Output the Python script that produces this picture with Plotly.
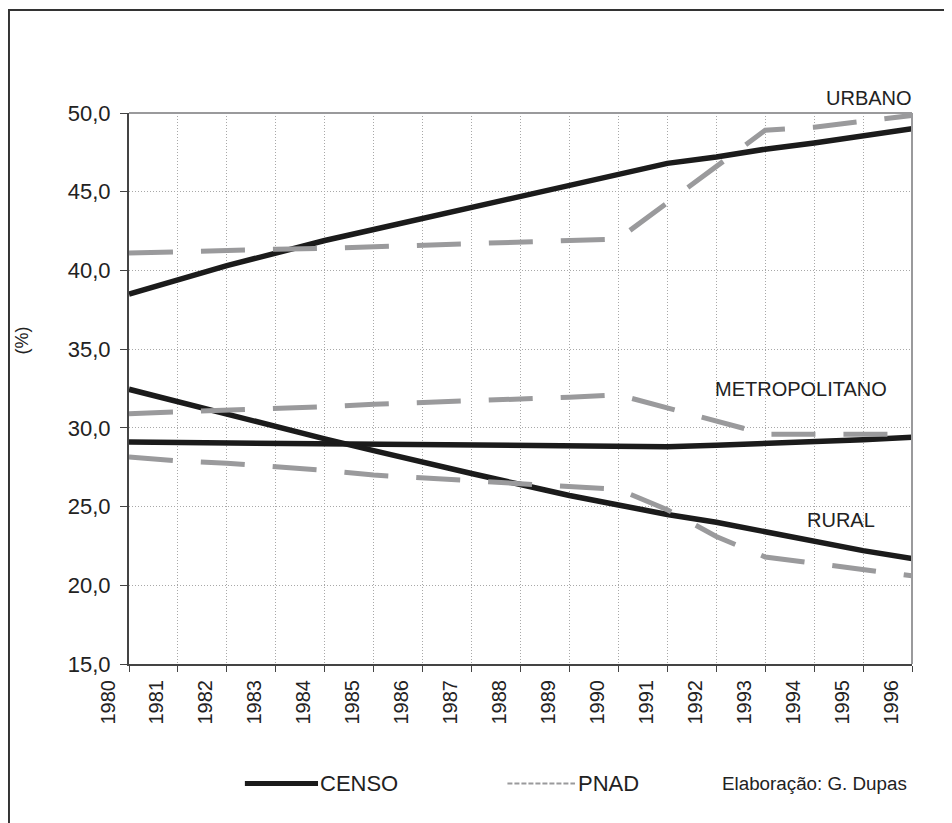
import plotly.graph_objects as go

years = list(range(1980, 1997))

censo_urbano = [38.5, 39.4, 40.3, 41.1, 41.9, 42.6, 43.3, 44.0, 44.7, 45.4, 46.1, 46.8,
                47.2, 47.7, 48.1, 48.55, 49.0]
censo_metro = [29.1, 29.07, 29.05, 29.02, 29.0, 28.97, 28.95, 28.92, 28.9, 28.87, 28.85, 28.8,
               28.9, 29.0, 29.12, 29.25, 29.4]
censo_rural = [32.45, 31.65, 30.85, 30.05, 29.3, 28.55, 27.8, 27.1, 26.4, 25.7, 25.1, 24.5,
               24.0, 23.4, 22.75, 22.2, 21.7]

pnad_urbano = [41.1, 41.2, 41.3, 41.35, 41.4, 41.5, 41.6, 41.7, 41.8, 41.9, 42.0, 44.3,
               46.6, 48.9, 49.1, 49.45, 49.85]
pnad_metro = [30.9, 31.0, 31.1, 31.2, 31.35, 31.5, 31.6, 31.7, 31.8, 31.95, 32.1, 31.25,
              30.4, 29.6, 29.6, 29.6, 29.6]
pnad_rural = [28.15, 27.9, 27.75, 27.55, 27.3, 27.0, 26.85, 26.65, 26.45, 26.3, 26.1, 24.8,
              23.1, 21.8, 21.4, 21.05, 20.6]

y_ticks = [15, 20, 25, 30, 35, 40, 45, 50]
y_tick_labels = ["15,0", "20,0", "25,0", "30,0", "35,0", "40,0", "45,0", "50,0"]
x_tick_labels = [str(y) for y in years]

series_labels = ["URBANO", "METROPOLITANO", "RURAL"]

BLACK = "#1b1b1b"
GRAY = "#9a9a9c"
FONT = "Liberation Sans, Arial, sans-serif"

fig = go.Figure()

for vals in (censo_urbano, censo_metro, censo_rural):
    fig.add_trace(go.Scatter(x=years, y=vals, mode="lines",
                             line=dict(color=BLACK, width=5.5), showlegend=False,
                             hoverinfo="skip"))
for vals in (pnad_urbano, pnad_metro, pnad_rural):
    fig.add_trace(go.Scatter(x=years, y=vals, mode="lines",
                             line=dict(color=GRAY, width=5, dash="44px,28px"),
                             showlegend=False, hoverinfo="skip"))

# series labels (x in data units, y in paper units)
label_pos = [(1995.12, 1.0265), (1993.74, 0.4995), (1994.55, 0.2611)]
for txt, (lx, ly) in zip(series_labels, label_pos):
    fig.add_annotation(x=lx, y=ly, yref="paper", text=txt, showarrow=False,
                       xanchor="center", yanchor="middle",
                       font=dict(size=20, color="#222", family=FONT))

# y axis title
fig.add_annotation(xref="paper", yref="paper", x=-0.1367, y=0.587, text="(%)",
                   textangle=-90, showarrow=False, xanchor="center", yanchor="middle",
                   font=dict(size=18, color="#222", family=FONT))

# legend (drawn manually)
LEG_Y = -0.2167
fig.add_shape(type="line", xref="paper", yref="paper", x0=0.148, x1=0.2414,
              y0=LEG_Y, y1=LEG_Y, line=dict(color=BLACK, width=5))
fig.add_annotation(xref="paper", yref="paper", x=0.2414, y=LEG_Y, text="CENSO",
                   xanchor="left", yanchor="middle", showarrow=False,
                   font=dict(size=22, color="#222", family=FONT))
fig.add_shape(type="line", xref="paper", yref="paper", x0=0.4833, x1=0.5696,
              y0=LEG_Y, y1=LEG_Y, line=dict(color=GRAY, width=2, dash="5px,2px"))
fig.add_annotation(xref="paper", yref="paper", x=0.571, y=LEG_Y, text="PNAD",
                   xanchor="left", yanchor="middle", showarrow=False,
                   font=dict(size=22, color="#222", family=FONT))
fig.add_annotation(xref="paper", yref="paper", x=0.7548, y=LEG_Y,
                   text="Elaboração: G. Dupas", xanchor="left", yanchor="middle",
                   showarrow=False, font=dict(size=18.8, color="#222", family=FONT))

# top and right gray frame of plot area
fig.add_shape(type="line", xref="paper", yref="paper", x0=0, x1=1, y0=1, y1=1,
              line=dict(color=GRAY, width=2))
fig.add_shape(type="line", xref="paper", yref="paper", x0=1, x1=1, y0=0, y1=1,
              line=dict(color=GRAY, width=2))

# outer border
fig.add_shape(type="rect", xref="paper", yref="paper", x0=-0.1533, x1=1.2,
              y0=-0.5, y1=1.187, line=dict(color="#333", width=2), layer="below")

fig.update_layout(
    width=944, height=815,
    margin=dict(l=121, r=40, t=105, b=159),
    paper_bgcolor="white", plot_bgcolor="white",
    font=dict(family=FONT, color="#222"),
    xaxis=dict(range=[1980, 1996], tickvals=years, ticktext=x_tick_labels,
               tickangle=-90, ticks="outside", ticklen=6, tickcolor="#444",
               showline=True, linecolor="#444", linewidth=2,
               showgrid=True, gridcolor="#a8a8a8", griddash="1px,2px", gridwidth=1,
               tickfont=dict(size=20, color="#222"), ticklabelshift=-21,
               zeroline=False, fixedrange=True),
    yaxis=dict(range=[15, 50], tickvals=y_ticks, ticktext=y_tick_labels,
               ticks="outside", ticklen=7, tickcolor="#444",
               showline=True, linecolor="#444", linewidth=2,
               showgrid=True, gridcolor="#a8a8a8", griddash="1px,2px", gridwidth=1,
               tickfont=dict(size=22, color="#222"), ticklabelstandoff=5,
               zeroline=False, fixedrange=True),
)

fig.write_html("out.html")
